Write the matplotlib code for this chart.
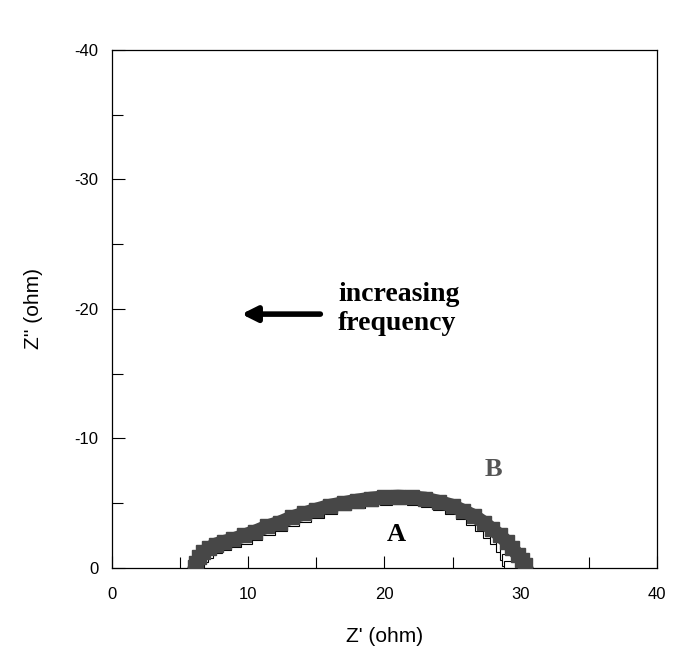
import matplotlib
matplotlib.use("Agg")
import matplotlib.pyplot as plt
from matplotlib.ticker import MultipleLocator

# Nyquist data (Z' in ohm, Z'' in ohm)
a_zre = [6.1, 6.2, 6.4, 6.7, 7.1, 7.6, 8.2, 8.9, 9.7, 10.5, 11.4, 12.3, 13.2, 14.1,
         15.0, 16.0, 17.0, 18.0, 19.0, 20.0, 21.0, 22.0, 23.0, 24.0, 25.0, 25.8,
         26.6, 27.3, 27.9, 28.5, 29.0, 29.4, 29.8, 30.1, 30.3]
a_zim = [-0.1, -0.4, -0.8, -1.2, -1.5, -1.8, -2.0, -2.2, -2.5, -2.8, -3.2, -3.5,
         -3.9, -4.2, -4.5, -4.8, -5.0, -5.2, -5.35, -5.45, -5.5, -5.45, -5.35,
         -5.1, -4.8, -4.4, -4.0, -3.5, -3.0, -2.5, -2.0, -1.5, -1.0, -0.6, -0.2]

b_zre = [6.3, 6.6, 7.0, 7.6, 8.3, 9.0, 9.8, 10.6, 11.5, 12.4, 13.3, 14.2, 15.1,
         16.1, 17.1, 18.1, 19.1, 20.1, 21.1, 22.1, 23.1, 24.0, 24.9, 25.7, 26.4,
         27.1, 27.7, 28.2, 28.6, 28.9, 29.1, 29.2]
b_zim = [-0.4, -0.9, -1.2, -1.6, -1.85, -2.05, -2.3, -2.6, -3.0, -3.3, -3.7, -4.0,
         -4.35, -4.65, -4.9, -5.1, -5.25, -5.35, -5.4, -5.35, -5.2, -4.95, -4.6,
         -4.2, -3.8, -3.3, -2.8, -2.3, -1.7, -1.1, -0.6, -0.1]

plt.rcParams['font.family'] = 'Liberation Sans'
plt.rcParams['axes.unicode_minus'] = False

fig = plt.figure(figsize=(6.75, 6.58), dpi=100)
ax = fig.add_axes([0.166, 0.137, 0.807, 0.787])

ax.plot(b_zre, b_zim, 's', mfc='white', mec='black', ms=8, mew=0.8, zorder=2)
ax.plot(a_zre, a_zim, 's-', color='#474747', ms=10, lw=10, zorder=3)

ax.set_xlim(0, 40)
ax.set_ylim(0, -40)
ax.xaxis.set_major_locator(MultipleLocator(10))
ax.xaxis.set_minor_locator(MultipleLocator(5))
ax.yaxis.set_major_locator(MultipleLocator(10))
ax.yaxis.set_minor_locator(MultipleLocator(5))
ax.tick_params(which='both', direction='in', labelsize=12, width=0.8)
ax.tick_params(which='major', length=9)
ax.tick_params(which='minor', length=8)
ax.tick_params(axis='x', pad=14)
ax.tick_params(axis='y', pad=10)
for s in ax.spines.values():
    s.set_linewidth(0.9)

ax.set_xlabel("Z' (ohm)", fontsize=15, labelpad=18)
ax.set_ylabel("Z'' (ohm)", fontsize=15, labelpad=22)

serif = 'Liberation Serif'
ax.annotate('', xy=(9.3, -19.6), xytext=(15.5, -19.6),
            arrowprops=dict(arrowstyle='-|>,head_length=0.9,head_width=0.45',
                            color='black', lw=4))
ax.text(16.6, -20.0, 'increasing\nfrequency', fontsize=20, fontweight='bold',
        family=serif, va='center', ha='left', linespacing=1.2)
ax.text(20.9, -2.6, 'A', fontsize=19, fontweight='bold', family=serif,
        ha='center', va='center')
ax.text(28.0, -7.6, 'B', fontsize=19, fontweight='bold', family=serif,
        color='#555555', ha='center', va='center')

fig.savefig('out.png', dpi=100)
